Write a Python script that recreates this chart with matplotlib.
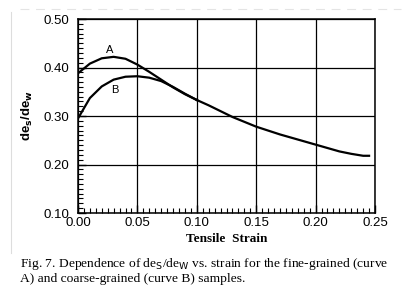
import numpy as np
import matplotlib.pyplot as plt
from matplotlib.ticker import MultipleLocator

# curve A (fine-grained), curve B (coarse-grained), shared tail
strain_ab = [0.00, 0.01, 0.02, 0.03, 0.04, 0.05, 0.06, 0.07, 0.08, 0.09, 0.10]
ratio_a = [0.388, 0.408, 0.419, 0.422, 0.418, 0.406, 0.391, 0.375, 0.359, 0.345, 0.333]
ratio_b = [0.295, 0.337, 0.361, 0.375, 0.381, 0.382, 0.379, 0.372, 0.360, 0.346, 0.333]
strain_tail = [0.10, 0.11, 0.12, 0.13, 0.14, 0.15, 0.16, 0.17, 0.18, 0.19,
               0.20, 0.21, 0.22, 0.23, 0.24, 0.245]
ratio_tail = [0.333, 0.322, 0.310, 0.298, 0.288, 0.278, 0.270, 0.262, 0.255, 0.248,
              0.241, 0.234, 0.227, 0.222, 0.218, 0.218]

xticks = [0.00, 0.05, 0.10, 0.15, 0.20, 0.25]
yticks = [0.10, 0.20, 0.30, 0.40, 0.50]

fig = plt.figure(figsize=(4.09, 2.88), dpi=100)
ax = fig.add_axes([0.1907, 0.2604, 0.7262, 0.6736])

ax.plot(strain_ab, ratio_a, color='black', lw=1.6)
ax.plot(strain_ab, ratio_b, color='black', lw=1.6)
ax.plot(strain_tail, ratio_tail, color='black', lw=1.6)

ax.text(0.027, 0.437, 'A', fontsize=8, ha='center', va='center', family='Liberation Sans')
ax.text(0.031, 0.354, 'B', fontsize=8, ha='center', va='center', family='Liberation Sans')

ax.set_xlim(0, 0.25)
ax.set_ylim(0.10, 0.50)
ax.set_xticks(xticks)
ax.set_yticks(yticks)
ax.set_xticklabels(['%.2f' % v for v in xticks], family='Liberation Sans', fontsize=9.5)
ax.set_yticklabels(['%.2f' % v for v in yticks], family='Liberation Sans', fontsize=9.5)
ax.xaxis.set_minor_locator(MultipleLocator(0.005))
ax.yaxis.set_minor_locator(MultipleLocator(0.01))
ax.tick_params(which='major', direction='in', length=6, width=1)
ax.tick_params(axis='y', which='major', pad=6)
ax.tick_params(axis='x', which='major', pad=3)
ax.tick_params(which='minor', direction='in', length=3.5, width=0.8)
ax.grid(True, which='major', color='black', lw=0.9)
for s in ax.spines.values():
    s.set_linewidth(1.1)

ax.set_xlabel('Tensile  Strain', family='Liberation Serif', fontweight='bold', fontsize=9.5, labelpad=2.5)
ax.set_ylabel(r'de$_\mathbf{s}$/de$_\mathbf{w}$', family='Liberation Sans', fontweight='bold',
              fontsize=9.5, labelpad=6)

fig.text(0.049, 0.083, r'Fig. 7. Dependence of de$_{\mathrm{S}}$/de$_{\mathrm{W}}$ vs. strain for the fine-grained (curve',
         family='Liberation Serif', fontsize=9.7, va='center')
fig.text(0.049, 0.030, 'A) and coarse-grained (curve B) samples.',
         family='Liberation Serif', fontsize=9.7, va='center')

# faint scan frame
fig.add_artist(plt.Line2D([0.027, 0.027], [0.12, 0.96], color='#dddddd', lw=0.8))
fig.add_artist(plt.Line2D([0.05, 0.98], [0.97, 0.97], color='#e4e4e4', lw=0.8, ls=(0, (8, 6))))

fig.savefig('out.png', dpi=100)
